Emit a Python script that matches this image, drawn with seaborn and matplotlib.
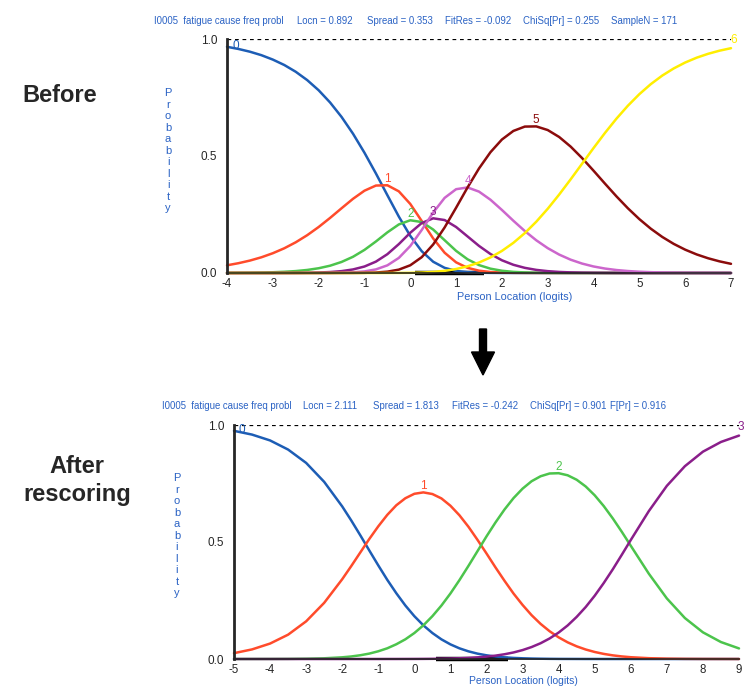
import numpy as np
import pandas as pd
import matplotlib.pyplot as plt
import seaborn as sns
from matplotlib.patches import FancyArrow

# category probability curves
x_before = [-4, -3.75, -3.5, -3.25, -3, -2.75, -2.5, -2.25, -2, -1.75, -1.5, -1.25,
            -1, -0.75, -0.5, -0.25, 0, 0.25, 0.5, 0.75, 1, 1.25, 1.5, 1.75, 2, 2.25,
            2.5, 2.75, 3, 3.25, 3.5, 3.75, 4, 4.25, 4.5, 4.75, 5, 5.25, 5.5, 5.75, 6,
            6.25, 6.5, 6.75, 7]
before = {
    "0": [.9667, .9574, .9457, .9309, .912, .8889, .860, .8244, .781, .7287, .667, .5953,
          .514, .4255, .3326, .2411, .1587, .0931, .0481, .0220, .0090, .0034, .0012,
          .0004, .0001] + [0] * 20,
    "1": [.0329, .0419, .0531, .0671, .0845, .1056, .1312, .1615, .1965, .2354, .2766,
          .3170, .3517, .3737, .375, .3490, .2951, .2222, .1476, .0866, .0456, .0220,
          .0099, .0042, .0017, .0007, .0003, .0001] + [0] * 17,
    "2": [.0005, .0008, .0012, .0020, .0032, .0052, .0082, .0130, .0203, .0312, .0472,
          .0693, .0987, .1347, .1736, .2075, .2253, .2178, .1857, .1400, .0947, .0586,
          .0338, .0185, .0096, .0048, .0024, .0011, .0005, .0002, .0001] + [0] * 14,
    "3": [0, 0, 0, .0001, .0001, .0003, .0005, .0010, .0021, .0041, .0080, .0152, .0277,
          .0486, .0804, .1234, .1720, .2135, .2337, .2263, .1966, .1563, .1158, .0812,
          .0544, .0351, .022, .0133, .0079, .0045, .0026, .0014, .0008, .0004, .0002,
          .0001, .0001] + [0] * 8,
    "4": [0] * 7 + [.0001, .0002, .0005, .0012, .0029, .0068, .0154, .0327, .0644, .1153,
                    .1838, .2583, .3211, .3581, .3656, .3478, .3131, .2694, .2233, .1793,
                    .1398, .1062, .0787, .0569, .0403, .0279, .0190, .0127, .0084, .0054,
                    .0035, .0022, .0014, .0009, .0005, .0003, .0002, .0001],
    "5": [0] * 10 + [.0001, .0002, .0007, .0021, .0057, .0144, .0330, .0676, .1220, .1947,
                     .2789, .3656, .4467, .5162, .5704, .6071, .6257, .6265, .6109, .5812,
                     .5402, .4911, .4372, .3818, .3275, .2765, .2302, .1893, .1541, .1244,
                     .0997, .0794, .0630, .0497, .0392],
    "6": [0] * 14 + [.0001, .0003, .0007, .0019, .0045, .0092, .0170, .0285, .0448, .0665,
                     .0943, .1289, .1705, .2192, .2745, .3353, .4002, .4671, .534, .5988,
                     .6596, .7150, .7643, .8072, .8437, .8742, .8995, .9201, .9367, .9501,
                     .9607],
}

x_after = [-5, -4.5, -4, -3.5, -3, -2.5, -2, -1.75, -1.5, -1.25, -1, -0.75, -0.5, -0.25,
           0, 0.25, 0.5, 0.75, 1, 1.25, 1.5, 1.75, 2, 2.25, 2.5, 2.75, 3, 3.25, 3.5,
           3.75, 4, 4.25, 4.5, 4.75, 5, 5.25, 5.5, 5.75, 6, 6.5, 7, 7.5, 8, 8.5, 9]
after = {
    "0": [.975, .959, .934, .895, .838, .757, .652, .5922, .529, .4640, .400, .3381, .281,
          .2287, .183, .1438, .111, .0840, .0625, .0456, .0327, .0229, .0158, .0107,
          .0071, .0046, .003, .0019, .0012, .0007, .0004, .0003, .0002, .0001, .0001]
         + [0] * 10,
    "1": [.025, .041, .066, .104, .161, .240, .341, .3970, .455, .5128, .567, .6161, .657,
          .6870, .706, .7120, .705, .6863, .655, .6142, .565, .5093, .451, .3912, .334,
          .2796, .231, .1873, .150, .1186, .0925, .0712, .0541, .0406, .030, .0218,
          .0156, .0110, .0076, .0035, .0015, .0006, .0002, .0001, 0],
    "2": [0, .0001, .0002, .0005, .0013, .003, .0072, .0108, .016, .0231, .033, .0458,
          .063, .0841, .111, .1438, .183, .2284, .280, .3371, .398, .4608, .524, .5837,
          .639, .6877, .728, .7597, .781, .7928, .794, .7851, .766, .7373, .6995, .6536,
          .601, .5438, .4838, .3646, .2588, .175, .114, .0724, .0452],
    "3": [0] * 11 + [.0001, .0001, .0002, .0003, .0005, .0008, .0013, .002, .0031, .0046,
                     .0069, .0101, .0144, .0203, .0280, .0381, .0511, .0674, .0878, .113,
                     .1434, .180, .2221, .2705, .3246, .383, .4452, .5086, .632, .740,
                     .824, .886, .9275, .9547],
}

# black marker on the baseline
bar_before = [0.1, 1.6]
bar_after = [0.6, 2.6]

title_before = ["I0005  fatigue cause freq probl", "Locn = 0.892", "Spread = 0.353",
                "FitRes = -0.092", "ChiSq[Pr] = 0.255", "SampleN = 171"]
title_after = ["I0005  fatigue cause freq probl", "Locn = 2.111", "Spread = 1.813",
               "FitRes = -0.242", "ChiSq[Pr] = 0.901", "F[Pr] = 0.916"]

pal_before = ["#1d5db5", "#ff4b2b", "#4cc44c", "#8a1e8a", "#cc66cc", "#8b0c0c", "#ffee00"]
pal_after = ["#1d5db5", "#ff4b2b", "#4cc44c", "#8a1e8a"]
txt_blue = "#2a62c4"

sns.set_style("white")
plt.rcParams['font.family'] = ['Liberation Sans', 'DejaVu Sans']
plt.rcParams['axes.unicode_minus'] = False

W, H = 749, 687
fig = plt.figure(figsize=(W / 100, H / 100), dpi=100)


def fx(p):
    return p / W


def fy(p):
    return 1 - p / H


def panel(rect, xs, curves, pal, bar):
    ax = fig.add_axes(rect)
    df = pd.DataFrame(curves)
    df["x"] = xs
    long = df.melt(id_vars="x", var_name="cat", value_name="p")
    ax.plot(bar, [0, 0], color="black", lw=3.2, solid_capstyle="butt", zorder=1.5,
            clip_on=False)
    sns.lineplot(data=long, x="x", y="p", hue="cat", palette=pal, lw=1.8,
                 legend=False, sort=False, ax=ax)
    for ln in ax.lines:
        ln.set_clip_on(False)
    ax.axhline(1.0, color="black", lw=0.9, ls=(0, (3, 3)), zorder=1)
    ax.set_xlim(xs[0], xs[-1])
    ax.set_ylim(0, 1)
    ax.set_xticks(range(int(xs[0]), int(xs[-1]) + 1))
    ax.set_yticks([0, 0.5, 1.0])
    ax.set_yticklabels(["0.0", "0.5", "1.0"])
    ax.set_yticks(np.arange(0, 1.01, 0.1), minor=True)
    ax.tick_params(axis="y", which="major", length=6, width=1, direction="out",
                   labelsize=8.5, pad=1)
    ax.tick_params(axis="y", which="minor", length=3.5, width=0.8, direction="out")
    ax.tick_params(axis="x", length=7, width=1, direction="inout", labelsize=8.3, pad=0)
    ax.set_xlabel("")
    ax.set_ylabel("")
    for s in ["top", "right"]:
        ax.spines[s].set_visible(False)
    ax.spines["left"].set_linewidth(2)
    ax.spines["bottom"].set_linewidth(1.2)
    ax.patch.set_alpha(0)
    # category numbers on the curves
    cats = list(curves.keys())
    for i, c in enumerate(cats):
        ys = curves[c]
        if i == 0:
            ax.text(xs[0] + 0.12, ys[0] + 0.005, c, color=pal[i], fontsize=8.5,
                    ha="left", va="center")
        elif i == len(cats) - 1:
            ax.text(xs[-1] + 0.05, ys[-1] + 0.01, c, color=pal[i], fontsize=8.5,
                    ha="center", va="bottom")
        else:
            k = int(np.argmax(ys))
            ax.text(xs[k], ys[k], c, color=pal[i], fontsize=8.5, ha="center",
                    va="bottom")
    return ax


ax1 = panel([fx(227), fy(273), fx(731) - fx(227), fy(39) - fy(273)],
            x_before, before, pal_before, bar_before)
ax2 = panel([fx(234), fy(659), fx(739) - fx(234), fy(425) - fy(659)],
            x_after, after, pal_after, bar_after)

# header lines
for txt, xp in zip(title_before, [154, 297, 367, 445, 523, 611]):
    fig.text(fx(xp), fy(21), txt, color=txt_blue, fontsize=6.9, ha="left", va="center")
for txt, xp in zip(title_after, [162, 303, 373, 452, 530, 610]):
    fig.text(fx(xp), fy(406), txt, color=txt_blue, fontsize=6.9, ha="left", va="center")

# axis titles
for xc, yt in [(168, 88), (177, 473)]:
    fig.text(fx(xc), fy(yt), "\n".join("Probability"), color=txt_blue, fontsize=8,
             ha="center", va="top", linespacing=1.19)
fig.text(fx(515), fy(297), "Person Location (logits)", color=txt_blue, fontsize=7.8,
         ha="center", va="center")
fig.text(fx(523), fy(686), "Person Location (logits)", color=txt_blue, fontsize=7.5,
         ha="center", va="bottom")

# side labels
fig.text(fx(60), fy(95), "Before", fontsize=17, fontweight="bold", ha="center",
         va="center")
fig.text(fx(77), fy(473), "After", fontsize=17, fontweight="bold", ha="center",
         va="baseline")
fig.text(fx(77), fy(501), "rescoring", fontsize=17, fontweight="bold", ha="center",
         va="baseline")

# arrow between panels
fig.patches.append(FancyArrow(fx(483), fy(329), 0, fy(375) - fy(329), width=fx(7),
                              head_width=fx(23), head_length=fy(352) - fy(375),
                              length_includes_head=True, color="black",
                              transform=fig.transFigure, figure=fig))

fig.savefig("out.png", dpi=100)
